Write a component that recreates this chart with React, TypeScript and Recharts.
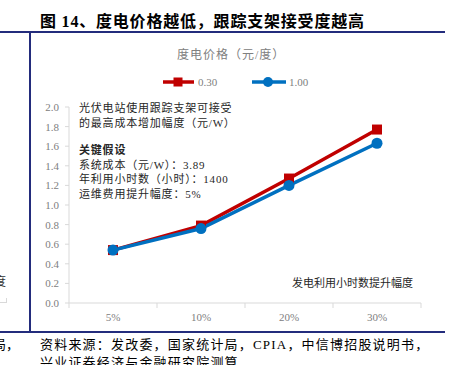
import React from "react";
import { LineChart, Line, XAxis, YAxis } from "recharts";

const categories = ["5%", "10%", "20%", "30%"];
const price030 = [0.54, 0.79, 1.27, 1.77];
const price100 = [0.54, 0.76, 1.2, 1.63];
const yTicks = [0, 0.2, 0.4, 0.6, 0.8, 1.0, 1.2, 1.4, 1.6, 1.8, 2.0];

const notes = [
  "光伏电站使用跟踪支架可接受",
  "的最高成本增加幅度（元/W）",
];
const assumptions = [
  "系统成本（元/W）：3.89",
  "年利用小时数（小时）：1400",
  "运维费用提升幅度：5%",
];

const RED = "#C00000";
const BLUE = "#0070C0";
const NAVY = "#232C7C";
const AXIS = "#D9D9D9";
const FONT = '"Liberation Serif", "Noto Sans CJK SC", serif';
const BAND = 88;

const data = categories.map((c, i) => ({ name: c, a: price030[i], b: price100[i] }));

function XTick(props: any) {
  const { x, y, payload, index } = props;
  const last = index === categories.length - 1;
  return (
    <g>
      <line x1={x - BAND / 2} x2={x - BAND / 2} y1={y} y2={y + 5} stroke={AXIS} />
      {last && <line x1={x + BAND / 2} x2={x + BAND / 2} y1={y} y2={y + 5} stroke={AXIS} />}
      <text x={x} y={y + 18} textAnchor="middle" fontSize={11} fill="#808080" fontFamily={FONT}>
        {payload.value}
      </text>
    </g>
  );
}

function SquareDot(props: any) {
  const { cx, cy, index } = props;
  return <rect key={`sq-${index}`} x={cx - 5} y={cy - 5} width={10} height={10} fill={RED} />;
}

function CircleDot(props: any) {
  const { cx, cy, index } = props;
  return <circle key={`ci-${index}`} cx={cx} cy={cy} r={5.5} fill={BLUE} />;
}

const abs = (extra: React.CSSProperties): React.CSSProperties => ({
  position: "absolute",
  fontFamily: FONT,
  whiteSpace: "nowrap",
  lineHeight: 1,
  ...extra,
});

export default function App() {
  return (
    <div style={{ position: "absolute", left: 0, top: 0, width: 450, height: 365, overflow: "hidden", background: "#fff" }}>
      {/* page frame */}
      <div style={{ position: "absolute", left: 0, top: 31, width: 445, height: 2, background: NAVY }} />
      <div style={{ position: "absolute", left: 29, top: 32, width: 2, height: 300, background: NAVY }} />
      <div style={{ position: "absolute", left: 0, top: 331, width: 445, height: 2, background: NAVY }} />

      <div style={abs({ left: 40, top: 14, fontSize: 16, fontWeight: 700, letterSpacing: 0.8, color: "#000" })}>
        图 14、度电价格越低，跟踪支架接受度越高
      </div>

      {/* bits of the neighbouring figure */}
      <div style={abs({ left: -6, top: 276, fontSize: 12, color: "#333" })}>度</div>
      <div style={{ position: "absolute", left: 0, top: 302, width: 6, height: 1, background: AXIS }} />
      <div style={{ position: "absolute", left: 6, top: 298, width: 1, height: 5, background: AXIS }} />
      <div style={abs({ left: -7, top: 338, fontSize: 13, color: "#000" })}>局，</div>

      <div style={abs({ left: 177, top: 49, fontSize: 12, letterSpacing: 1, color: "#808080" })}>
        度电价格（元/度）
      </div>

      {/* legend */}
      <svg style={{ position: "absolute", left: 160, top: 74 }} width={160} height={16}>
        <line x1={3} x2={34} y1={8} y2={8} stroke={RED} strokeWidth={3.5} />
        <rect x={13.5} y={3.5} width={9} height={9} fill={RED} />
        <text x={38} y={12} fontSize={11} fill="#808080" fontFamily={FONT}>0.30</text>
        <line x1={92} x2={126} y1={8} y2={8} stroke={BLUE} strokeWidth={3.5} />
        <circle cx={108} cy={8} r={5} fill={BLUE} />
        <text x={129} y={12} fontSize={11} fill="#808080" fontFamily={FONT}>1.00</text>
      </svg>

      <div style={{ position: "absolute", left: 0, top: 0 }}>
        <LineChart width={450} height={365} data={data} margin={{ top: 107, right: 29, bottom: 31, left: 39 }}>
          <XAxis
            dataKey="name"
            padding={{ left: BAND / 2, right: BAND / 2 }}
            axisLine={{ stroke: AXIS }}
            tickLine={false}
            tickSize={0}
            tickMargin={0}
            height={31}
            tick={<XTick />}
            interval={0}
          />
          <YAxis
            domain={[0, 2]}
            ticks={yTicks}
            width={30}
            axisLine={{ stroke: AXIS }}
            tickLine={{ stroke: AXIS }}
            tickSize={4}
            tickMargin={6}
            tick={{ fontSize: 11, fill: "#808080", fontFamily: FONT }}
            tickFormatter={(v: number) => v.toFixed(1)}
          />
          <Line dataKey="a" stroke={RED} strokeWidth={3.5} dot={SquareDot} isAnimationActive={false} />
          <Line dataKey="b" stroke={BLUE} strokeWidth={3.5} dot={CircleDot} isAnimationActive={false} />
        </LineChart>
      </div>

      {/* annotation */}
      <div style={abs({ left: 79, top: 103, fontSize: 11, color: "#262626", letterSpacing: 0.8 })}>
        {notes.map((t) => (
          <div key={t} style={{ height: 14.5 }}>{t}</div>
        ))}
        <div style={{ height: 13 }} />
        <div style={{ height: 14.5, fontWeight: 700 }}>关键假设</div>
        {assumptions.map((t) => (
          <div key={t} style={{ height: 14.5 }}>{t}</div>
        ))}
      </div>

      <div style={abs({ left: 292, top: 278, fontSize: 11, color: "#262626", letterSpacing: 0 })}>
        发电利用小时数提升幅度
      </div>

      <div style={abs({ left: 40, top: 338, fontSize: 13, color: "#000", letterSpacing: 1.2 })}>
        资料来源：发改委，国家统计局，CPIA，中信博招股说明书，
      </div>
      <div style={abs({ left: 40, top: 356, fontSize: 13, color: "#000", letterSpacing: 1.2 })}>
        兴业证券经济与金融研究院测算
      </div>
    </div>
  );
}
